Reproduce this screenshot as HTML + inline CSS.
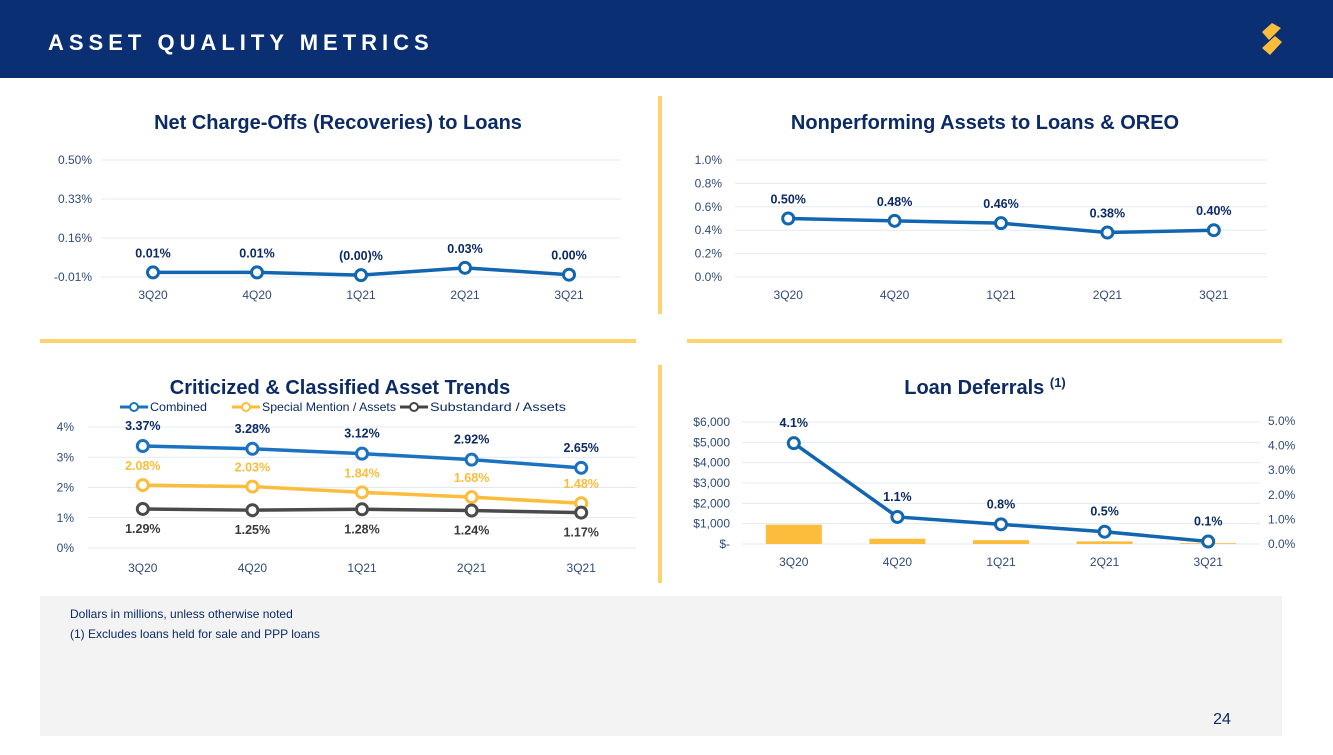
<!DOCTYPE html>
<html><head><meta charset="utf-8"><style>
body{margin:0;width:1333px;height:750px;overflow:hidden;background:#fff;font-family:"Liberation Sans",sans-serif}
svg text{font-family:"Liberation Sans",sans-serif}
</style></head><body>
<svg id="s" width="1333" height="750" xmlns="http://www.w3.org/2000/svg">
<rect x="0" y="0" width="1333" height="78" fill="#0a2f73"/>
<text x="48" y="50" font-size="22" font-weight="bold" fill="#fff" letter-spacing="5">ASSET QUALITY METRICS</text>
<g><path d="M1262 32 L1272 23 L1281 28 L1269 40 Z M1262 48 L1275 36 L1282 42 L1270 55 Z" fill="#fbbd3b"/></g>
<rect x="658" y="96" width="4" height="218" fill="#fdd36f"/>
<rect x="658" y="365" width="4" height="218" fill="#fdd36f"/>
<rect x="40" y="339" width="596" height="4" fill="#fdd36f"/>
<rect x="687" y="339" width="595" height="4" fill="#fdd36f"/>
<rect x="40" y="596" width="1242" height="140" fill="#f3f3f3"/>
<text x="70" y="618" font-size="12" fill="#0b2a66">Dollars in millions, unless otherwise noted</text>
<text x="70" y="638" font-size="12" fill="#0b2a66">(1)   Excludes loans held for sale and PPP loans</text>
<text x="1222" y="724" font-size="16" fill="#0b2a66" text-anchor="middle">24</text>
<text x="338" y="129" font-size="20" font-weight="bold" fill="#0b2a66" text-anchor="middle">Net Charge-Offs (Recoveries) to Loans</text>
<text x="985" y="129" font-size="20" font-weight="bold" fill="#0b2a66" text-anchor="middle">Nonperforming Assets to Loans &amp; OREO</text>
<text x="340" y="394" font-size="20" font-weight="bold" fill="#0b2a66" text-anchor="middle">Criticized &amp; Classified Asset Trends</text>
<text x="985" y="394" font-size="20" font-weight="bold" fill="#0b2a66" text-anchor="middle">Loan Deferrals <tspan font-size="13" dy="-7">(1)</tspan></text>
<g>
<line x1="120" y1="407" x2="148" y2="407" stroke="#1b72c0" stroke-width="3"/><circle cx="134" cy="407" r="4" fill="#fff" stroke="#1b72c0" stroke-width="2"/>
<text x="150" y="411" font-size="12" fill="#0b2a66" textLength="57" lengthAdjust="spacingAndGlyphs">Combined</text>
<line x1="232" y1="407" x2="260" y2="407" stroke="#fbbd3b" stroke-width="3"/><circle cx="246" cy="407" r="4" fill="#fff" stroke="#fbbd3b" stroke-width="2"/>
<text x="262" y="411" font-size="12" fill="#0b2a66" textLength="134" lengthAdjust="spacingAndGlyphs">Special Mention / Assets</text>
<line x1="400" y1="407" x2="428" y2="407" stroke="#444" stroke-width="3"/><circle cx="414" cy="407" r="4" fill="#fff" stroke="#444" stroke-width="2"/>
<text x="430" y="411" font-size="12" fill="#0b2a66" textLength="136" lengthAdjust="spacingAndGlyphs">Substandard / Assets</text>
</g>
<g id="g"></g>
</svg>
<script>
const quarters=["3Q20","4Q20","1Q21","2Q21","3Q21"];
const ncoValues=[0.01,0.01,-0.002,0.03,0.0];
const ncoLabels=["0.01%","0.01%","(0.00)%","0.03%","0.00%"];
const ncoTicks=[-0.01,0.16,0.33,0.50];
const ncoTickLabels=["-0.01%","0.16%","0.33%","0.50%"];
const npaValues=[0.50,0.48,0.46,0.38,0.40];
const npaLabels=["0.50%","0.48%","0.46%","0.38%","0.40%"];
const npaTicks=[0,0.2,0.4,0.6,0.8,1.0];
const combinedValues=[3.37,3.28,3.12,2.92,2.65];
const specialValues=[2.08,2.03,1.84,1.68,1.48];
const substandardValues=[1.29,1.25,1.28,1.24,1.17];
const critTicks=[0,1,2,3,4];
const deferralAmounts=[950,260,190,130,40];
const deferralPcts=[4.1,1.1,0.8,0.5,0.1];
const deferralLeftTicks=[0,1000,2000,3000,4000,5000,6000];
const deferralLeftLabels=["$-","$1,000","$2,000","$3,000","$4,000","$5,000","$6,000"];
const deferralRightTicks=[0,1,2,3,4,5];

const NS="http://www.w3.org/2000/svg",G=document.getElementById('g');
function el(t,a,txt){const e=document.createElementNS(NS,t);for(const k in a)e.setAttribute(k,a[k]);if(txt!==undefined)e.textContent=txt;G.appendChild(e);return e;}
function lin(d0,d1,r0,r1){return v=>r0+(v-d0)/(d1-d0)*(r1-r0);}
function xBand(x0,x1){const s=(x1-x0)/quarters.length;return i=>x0+s*(i+0.5);}
function grid(ticks,y,x0,x1,lx,labels,fmt,anchor){ticks.forEach((t,i)=>{
  const l=el('line',{x1:x0,x2:x1,y1:y(t),y2:y(t),stroke:'#e3e9f2','stroke-width':1});
  
  
  const tx=el('text',{x:lx,y:y(t)+4,'font-size':12,fill:'#2f4a7a','text-anchor':anchor||'start'},labels?labels[i]:fmt(t));
  
  });}
function xlabels(x,y){quarters.forEach((q,i)=>{const t=el('text',{x:x(i),y:y,'font-size':12,fill:'#2f4a7a','text-anchor':'middle'},q);
  
  });}
function series(vals,x,y,color,labels,dy,lc,name){
  const p=el('polyline',{points:vals.map((v,i)=>x(i)+','+y(v)).join(' '),fill:'none',stroke:color,'stroke-width':3.5});
  
  
  vals.forEach((v,i)=>{const c=el('circle',{cx:x(i),cy:y(v),r:5.5,fill:'#fff',stroke:color,'stroke-width':3});
    
    
    const t=el('text',{x:x(i),y:y(v)+dy,'font-size':12.5,'font-weight':'bold',fill:lc,'text-anchor':'middle'},labels[i]);
    
    });}
// Chart 1
{const x=xBand(101,621),y=lin(-0.01,0.50,277,160);
grid(ncoTicks,y,101,621,92,ncoTickLabels,null,'end');
xlabels(x,299);
series(ncoValues,x,y,'#1266b0',ncoLabels,-15,'#0b2a66','nco');}
// Chart 2
{const x=xBand(735,1267),y=lin(0,1,277,160);
grid(npaTicks,y,735,1267,722,null,v=>v.toFixed(1)+'%','end');
xlabels(x,299);
series(npaValues,x,y,'#1266b0',npaLabels,-15,'#0b2a66','npa');}
// Chart 3
{const x=xBand(88,636),y=lin(0,4,548,427);
grid(critTicks,y,88,636,74,null,v=>v+'%','end');
xlabels(x,572);
series(combinedValues,x,y,'#1b72c0',combinedValues.map(v=>v.toFixed(2)+'%'),-16,'#0b2a66','combined');
series(specialValues,x,y,'#fbbd3b',specialValues.map(v=>v.toFixed(2)+'%'),-15,'#fbbd3b','special-mention');
series(substandardValues,x,y,'#4a4a4a',substandardValues.map(v=>v.toFixed(2)+'%'),24,'#3a3a3a','substandard');}
// Chart 4
{const x=xBand(742,1260),y=lin(0,6000,544,422),yr=lin(0,5,544,421);
grid(deferralLeftTicks,y,742,1260,730,deferralLeftLabels,null,'end');
deferralRightTicks.forEach(t=>{const tx=el('text',{x:1268,y:yr(t)+4,'font-size':12,fill:'#2f4a7a'},t.toFixed(1)+'%');
  
  });
xlabels(x,566);
deferralAmounts.forEach((v,i)=>{const b=el('rect',{x:x(i)-28,y:y(v),width:56,height:544-y(v),fill:'#fbbd3b'});
  
  });
series(deferralPcts,x,yr,'#1266b0',deferralPcts.map(v=>v.toFixed(1)+'%'),-16,'#0b2a66','deferral-pct');}
</script>
</body></html>
